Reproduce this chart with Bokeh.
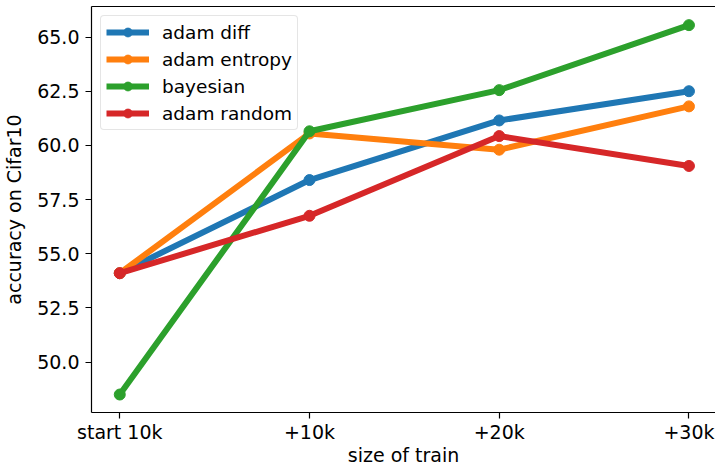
from bokeh.plotting import figure
from bokeh.models import FixedTicker, PrintfTickFormatter, LinearAxis, Range1d
from bokeh.embed import file_html
from bokeh.resources import INLINE

categories = ["start 10k", "+10k", "+20k", "+30k"]
series_names = ["adam diff", "adam entropy", "bayesian", "adam random"]
adam_diff = [54.1, 58.4, 61.15, 62.5]
adam_entropy = [54.1, 60.55, 59.8, 61.8]
bayesian = [48.5, 60.65, 62.55, 65.55]
adam_random = [54.1, 56.75, 60.43, 59.05]
y_ticks = [50.0, 52.5, 55.0, 57.5, 60.0, 62.5, 65.0]
colors = ["#1f77b4", "#ff7f0e", "#2ca02c", "#d62728"]

FONT = "DejaVu Sans"
xs = list(range(len(categories)))

p = figure(width=715, height=468, output_backend="svg", toolbar_location=None,
           x_range=Range1d(-0.149, 3.14), y_range=Range1d(47.67, 66.41),
           min_border_left=90, min_border_right=0, min_border_top=6, min_border_bottom=0)
p.outline_line_color = None
p.grid.visible = False
p.background_fill_color = "white"
p.border_fill_color = "white"

for name, vals, c in zip(series_names, [adam_diff, adam_entropy, bayesian, adam_random], colors):
    p.line(xs, vals, line_color=c, line_width=6, legend_label=name)
    p.scatter(xs, vals, marker="circle", size=11, fill_color=c, line_color=c, legend_label=name)

# axes
xa = p.xaxis[0]
xa.ticker = FixedTicker(ticks=xs)
xa.major_label_overrides = {i: lab for i, lab in zip(xs, categories)}
ya = p.yaxis[0]
ya.ticker = FixedTicker(ticks=y_ticks)
ya.formatter = PrintfTickFormatter(format="%.1f")
for ax in (xa, ya):
    ax.minor_tick_line_color = None
    ax.major_tick_in = 0
    ax.major_tick_out = 6
    ax.major_tick_line_color = "black"
    ax.axis_line_color = "black"
    ax.axis_line_width = 1.2
    ax.major_tick_line_width = 1.2
    ax.major_label_text_font = FONT
    ax.major_label_text_font_size = "19px"
    ax.major_label_text_color = "black"
    ax.axis_label_text_font = FONT
    ax.axis_label_text_font_size = "19px"
    ax.axis_label_text_font_style = "normal"
    ax.axis_label_text_color = "black"
xa.axis_label = "size of train"
ya.axis_label = "accuracy on Cifar10"
xa.major_label_standoff = 2
xa.axis_label_standoff = -2
ya.major_label_standoff = 6
ya.axis_label_standoff = 9

top = LinearAxis(ticker=FixedTicker(ticks=[]), axis_line_color="black", axis_line_width=1.2,
                 major_tick_out=0, major_tick_in=0, minor_tick_line_color=None,
                 major_label_text_font_size="0px", major_label_standoff=0)
p.add_layout(top, "above")

lg = p.legend[0]
lg.location = "top_left"
lg.margin = 9
lg.padding = 5
lg.spacing = 5
lg.label_height = 22
lg.glyph_height = 22
lg.glyph_width = 43
lg.label_standoff = 13
lg.label_text_font = FONT
lg.label_text_font_size = "18.5px"
lg.label_text_color = "black"
lg.border_line_color = "#cccccc"
lg.border_line_width = 1
lg.background_fill_color = "white"
lg.background_fill_alpha = 0.8
try:
    lg.border_radius = 4
except Exception:
    pass

open("out.html", "w").write(file_html(p, INLINE))
